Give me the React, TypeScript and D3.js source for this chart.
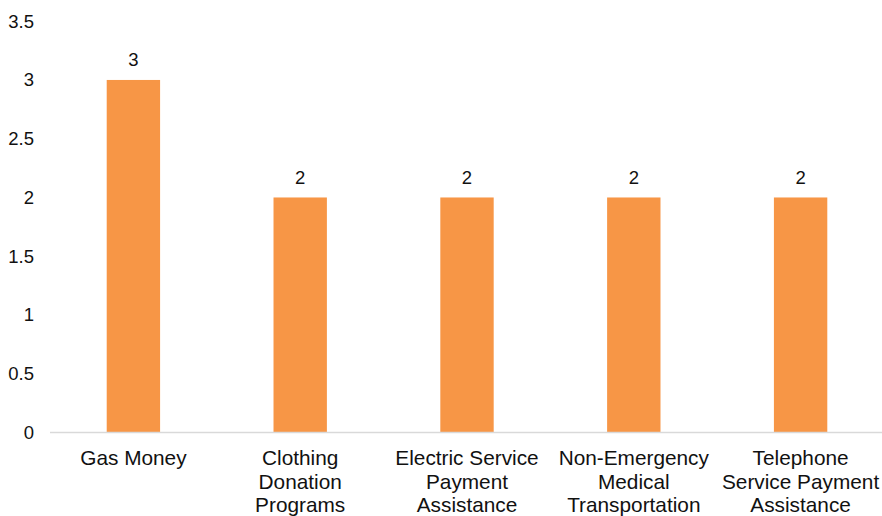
import React from "react";
import * as d3 from "d3";

const W = 882;
const H = 516;

const categories = [
  ["Gas Money"],
  ["Clothing", "Donation", "Programs"],
  ["Electric Service", "Payment", "Assistance"],
  ["Non-Emergency", "Medical", "Transportation"],
  ["Telephone", "Service Payment", "Assistance"],
];
const values = [3, 2, 2, 2, 2];
const yTicks = [0, 0.5, 1, 1.5, 2, 2.5, 3, 3.5];

const FONT = "'Liberation Sans', Arial, sans-serif";

const App = () => {
  const x = d3
    .scaleBand<number>()
    .domain(values.map((_, i) => i))
    .range([50, 884])
    .paddingInner(0.68)
    .paddingOuter(0.34);
  const y = d3.scaleLinear().domain([0, 3.5]).range([432.5, 21.2]);

  return (
    <div style={{ position: "absolute", left: 0, top: 0 }}>
      <svg width={W} height={H} style={{ display: "block" }} fontFamily={FONT}>
        <rect width={W} height={H} fill="#fff" />
        {yTicks.map((t) => (
          <text key={t} x={34} y={y(t)} dy="0.35em" textAnchor="end" fontSize={18.5} fill="#111">
            {t}
          </text>
        ))}
        {values.map((v, i) => (
          <g key={i}>
            <rect
              x={x(i)}
              y={y(v)}
              width={x.bandwidth()}
              height={y(0) - y(v)}
              fill="#F79646"
            />
            <text
              x={x(i)! + x.bandwidth() / 2}
              y={y(v) - 20}
              dy="0.35em"
              textAnchor="middle"
              fontSize={18.5}
              fill="#111"
            >
              {v}
            </text>
          </g>
        ))}
        <line x1={50} x2={884} y1={y(0)} y2={y(0)} stroke="#d9d9d9" strokeWidth={1.5} />
        {categories.map((lines, i) => (
          <text
            key={i}
            x={x(i)! + x.bandwidth() / 2}
            y={458}
            textAnchor="middle"
            fontSize={20.8}
            fill="#111"
          >
            {lines.map((l, j) => (
              <tspan key={j} x={x(i)! + x.bandwidth() / 2} dy={j === 0 ? "0.35em" : 23.5}>
                {l}
              </tspan>
            ))}
          </text>
        ))}
      </svg>
    </div>
  );
};

export default App;
